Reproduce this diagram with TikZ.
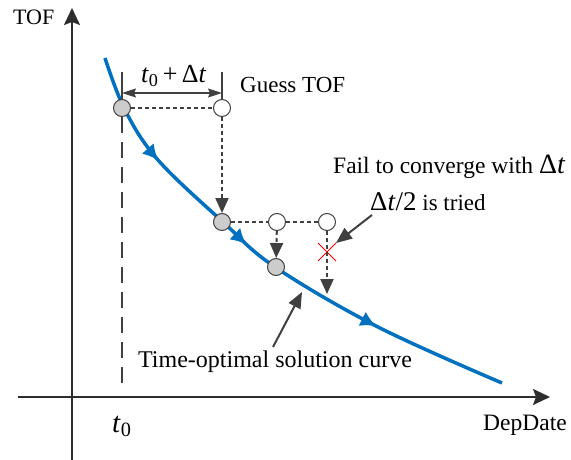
\documentclass[tikz,border=0pt]{standalone}
\usepackage{fontspec}
\setmainfont{Liberation Serif}
\usetikzlibrary{arrows.meta, positioning, decorations.markings, shapes.misc}
\definecolor{curveblue}{RGB}{0, 112, 192}
\definecolor{axisgray}{RGB}{45, 45, 45}
\definecolor{linegray}{RGB}{64, 64, 64}

\begin{document}
\begin{tikzpicture}[x=1pt, y=-1pt,
  pt/.style={circle, draw=linegray, line width=1pt, minimum size=17pt, inner sep=0pt},
  solpt/.style={pt, fill=gray!40},
  guesspt/.style={pt, fill=white},
  guide/.style={linegray, dash pattern=on 4pt off 3pt, line width=2pt},
  down/.style={guide, -{Triangle[width=13pt, length=15pt]}},
  callout/.style={linegray, line width=2pt, -{Triangle[width=13pt, length=16pt]}},
  lbl/.style={font=\fontsize{23}{27}\selectfont, inner sep=0pt, anchor=base west}
]
\useasboundingbox (0,0) rectangle (571,460);

% axes
\coordinate (xstart) at (18,397);
\coordinate (xend) at (550,397);
\coordinate (ybot) at (72,462);
\coordinate (ytop) at (72,8);
\draw[axisgray, line width=2pt, -{Stealth[width=16pt, length=17pt, inset=3pt]}] (xstart) -- (xend);
\draw[axisgray, line width=2pt, -{Stealth[width=16pt, length=17pt, inset=3pt]}] (ybot) -- (ytop);
\node[lbl, font=\fontsize{22}{26}\selectfont] (tof) at (13,25) {TOF};
\node[lbl, font=\fontsize{23.5}{27}\selectfont] (dep) at (483,430) {DepDate};

% solution curve
\draw[curveblue, line width=3.5pt, postaction={decorate},
  decoration={markings,
    mark=at position 0.22 with {\arrow{Latex[width=16pt, length=16pt]}},
    mark=at position 0.45 with {\arrow{Latex[width=16pt, length=16pt]}},
    mark=at position 0.74 with {\arrow{Latex[width=16pt, length=16pt]}}}]
  plot[smooth, tension=0.6] coordinates {(105,58) (125,110) (158,160) (223,222) (275,267) (378,327) (502,383)};

% points
\node[solpt] (p1) at (122,108) {};
\node[guesspt] (g1) at (222,108) {};
\node[solpt] (p2) at (222,222) {};
\node[guesspt] (g2) at (277,222) {};
\node[guesspt] (g3) at (327,222) {};
\node[solpt] (p3) at (276,267) {};
\node[cross out, draw=red, line width=1pt, minimum size=17pt, inner sep=0pt] (fail) at (327,252) {};
\coordinate (miss) at (327,294);

% t0 line
\coordinate (t0foot) at (122,388);
\draw[linegray, line width=2.2pt, dash pattern=on 16pt off 9pt] (p1.south) -- (t0foot);
\node[lbl, font=\fontsize{29}{31}\selectfont] (t0) at (112,432) {\itshape t\/\upshape\textsubscript{0}};

% guesses
\draw[guide] (p1) -- (g1);
\draw[down] (g1) -- (p2);
\draw[guide] (p2) -- (g2);
\draw[guide] (g2) -- (g3);
\draw[down] (g2) -- (p3);
\draw[down] (g3) -- (miss);

% step size
\coordinate (s1) at (122,72);
\coordinate (s2) at (222,72);
\coordinate (d1) at (122,93);
\coordinate (d2) at (222,93);
\draw[linegray, line width=1.2pt] (s1) -- (p1.north);
\draw[linegray, line width=1.2pt] (s2) -- (g1.north);
\draw[linegray, line width=1.2pt, {Stealth[width=9pt, length=14pt, inset=2pt]}-{Stealth[width=9pt, length=14pt, inset=2pt]}] (d1) -- (d2);
\node[lbl, font=\fontsize{26}{28}\selectfont] (step) at (141,83) {\itshape t\/\textsubscript{\upshape 0}\,\upshape +\,Δ\itshape t};

% labels
\node[lbl] (guess) at (240,93) {Guess TOF};
\node[lbl, font=\fontsize{23.5}{27}\selectfont] (failtxt) at (333,173) {Fail to converge with {\fontsize{28}{28}\selectfont Δ\itshape t}};
\node[lbl] (half) at (370,210) {{\fontsize{27}{28}\selectfont Δ\itshape t\/\upshape/2} is tried};
\coordinate (halfout) at (372,215);
\draw[callout] (halfout) -- (fail.north east);

\node[lbl, anchor=base, font=\fontsize{24}{28}\selectfont] (sol) at (275,367) {Time-optimal solution curve};
\coordinate (solout) at (273,347);
\coordinate (solin) at (302,292);
\draw[callout] (solout) -- (solin);
\end{tikzpicture}
\end{document}
